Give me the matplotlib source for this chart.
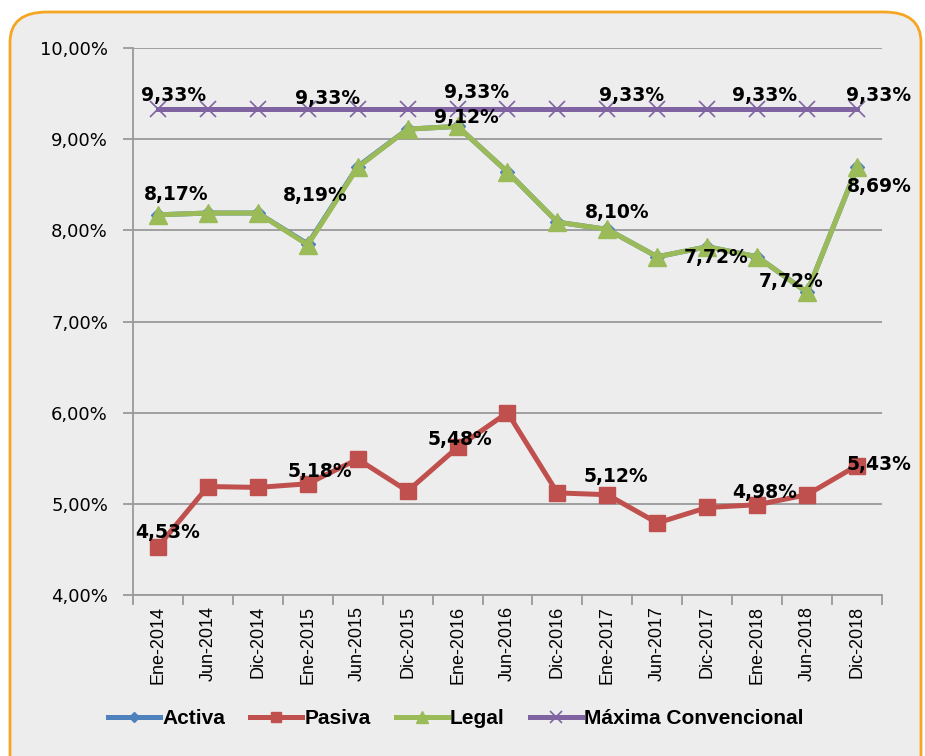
import matplotlib.pyplot as plt
import numpy as np
from matplotlib.patches import FancyBboxPatch
from matplotlib.ticker import FuncFormatter, FixedLocator

plt.rcParams['font.family'] = ['Liberation Sans', 'DejaVu Sans']

fechas = ['Ene-2014', 'Jun-2014', 'Dic-2014', 'Ene-2015', 'Jun-2015', 'Dic-2015',
          'Ene-2016', 'Jun-2016', 'Dic-2016', 'Ene-2017', 'Jun-2017', 'Dic-2017',
          'Ene-2018', 'Jun-2018', 'Dic-2018']

activa = [8.17, 8.19, 8.19, 7.85, 8.70, 9.11, 9.14, 8.64, 8.09, 8.01, 7.71, 7.82, 7.71, 7.32, 8.69]
pasiva = [4.53, 5.19, 5.18, 5.22, 5.49, 5.14, 5.62, 6.00, 5.12, 5.10, 4.79, 4.96, 4.99, 5.10, 5.42]
legal = [8.17, 8.19, 8.19, 7.84, 8.69, 9.11, 9.14, 8.64, 8.09, 8.01, 7.71, 7.82, 7.71, 7.32, 8.69]
maxima = [9.33] * 15

# etiquetas de datos: (serie, indice, texto, desplazamiento en pixeles)
etiquetas = [
    ('maxima', 0, '9,33%', (16, 14)),
    ('maxima', 3, '9,33%', (20, 11)),
    ('maxima', 6, '9,33%', (19, 17)),
    ('maxima', 9, '9,33%', (24, 14)),
    ('maxima', 12, '9,33%', (7, 14)),
    ('maxima', 14, '9,33%', (22, 14)),
    ('legal', 0, '8,17%', (18, 20)),
    ('legal', 3, '8,19%', (7, 49)),
    ('legal', 6, '9,12%', (9, 9)),
    ('legal', 9, '8,10%', (10, 17)),
    ('legal', 11, '7,72%', (9, -11)),
    ('legal', 13, '7,72%', (-16, 11)),
    ('legal', 14, '8,69%', (22, -19)),
    ('pasiva', 0, '4,53%', (10, 14)),
    ('pasiva', 3, '5,18%', (12, 12)),
    ('pasiva', 6, '5,48%', (2, 8)),
    ('pasiva', 9, '5,12%', (9, 18)),
    ('pasiva', 12, '4,98%', (7, 12)),
    ('pasiva', 14, '5,43%', (22, 1)),
]

gris = '#EDEDED'
fig = plt.figure(figsize=(9.25, 7.56), dpi=100)
fig.patch.set_facecolor('white')
marco = FancyBboxPatch((10 / 925, -0.05), 911 / 925, 1 - 12 / 756 + 0.05,
                       boxstyle='round,pad=0,rounding_size=0.04',
                       transform=fig.transFigure, facecolor=gris,
                       edgecolor='#F5A623', linewidth=2, zorder=-10)
fig.patches.append(marco)

ax = fig.add_axes([133 / 925, 1 - 595 / 756, (882 - 133) / 925, (595 - 48) / 756])
ax.set_facecolor(gris)

x = np.arange(len(fechas))
series = {'activa': activa, 'pasiva': pasiva, 'legal': legal, 'maxima': maxima}

ax.plot(x, activa, color='#4F81BD', lw=3.6, marker='D', ms=7, label='Activa', zorder=3)
ax.plot(x, pasiva, color='#C0504D', lw=3.6, marker='s', ms=11, label='Pasiva', zorder=3)
ax.plot(x, legal, color='#9BBB59', lw=3.6, marker='^', ms=13, label='Legal', zorder=4)
ax.plot(x, maxima, color='#8064A2', lw=3.6, marker='x', ms=12, mew=1.2,
        label='Máxima Convencional', zorder=3)

for serie, i, texto, (dx, dy) in etiquetas:
    ax.annotate(texto, (x[i], series[serie][i]), xytext=(dx, dy),
                textcoords='offset pixels', ha='center', va='center',
                fontsize=13.5, fontweight='bold', color='black', zorder=6,
                family='DejaVu Sans')

ax.set_ylim(4, 10)
ax.set_xlim(-0.5, len(fechas) - 0.5)
ax.set_yticks(np.arange(4, 10.01, 1))
ax.yaxis.set_major_formatter(FuncFormatter(lambda v, p: f'{v:.2f}%'.replace('.', ',')))
ax.grid(axis='y', color='#999999', lw=1.3, zorder=1)
ax.set_axisbelow(True)

ax.set_xticks(x)
ax.set_xticklabels(fechas, rotation=90, fontsize=13)
ax.xaxis.set_minor_locator(FixedLocator(np.arange(-0.5, len(fechas), 1)))
ax.tick_params(axis='x', which='major', length=0, pad=8)
ax.tick_params(axis='x', which='minor', length=7, color='#999999', width=1.3)
ax.tick_params(axis='y', length=7, color='#999999', width=1.3, labelsize=13, pad=11)
for t in ax.get_yticklabels():
    t.set_family('DejaVu Sans')

for s in ['top', 'right']:
    ax.spines[s].set_visible(False)
for s in ['left', 'bottom']:
    ax.spines[s].set_color('#999999')
    ax.spines[s].set_linewidth(1.3)

leg = fig.legend(loc='center left', bbox_to_anchor=(100 / 925, 1 - 719 / 756), ncol=4,
                 frameon=False, prop={'weight': 'bold', 'size': 15},
                 handlelength=2.5, handletextpad=0.1, columnspacing=1.2,
                 borderaxespad=0, markerscale=0.7)

fig.savefig('out.png', dpi=100, facecolor=fig.get_facecolor())
